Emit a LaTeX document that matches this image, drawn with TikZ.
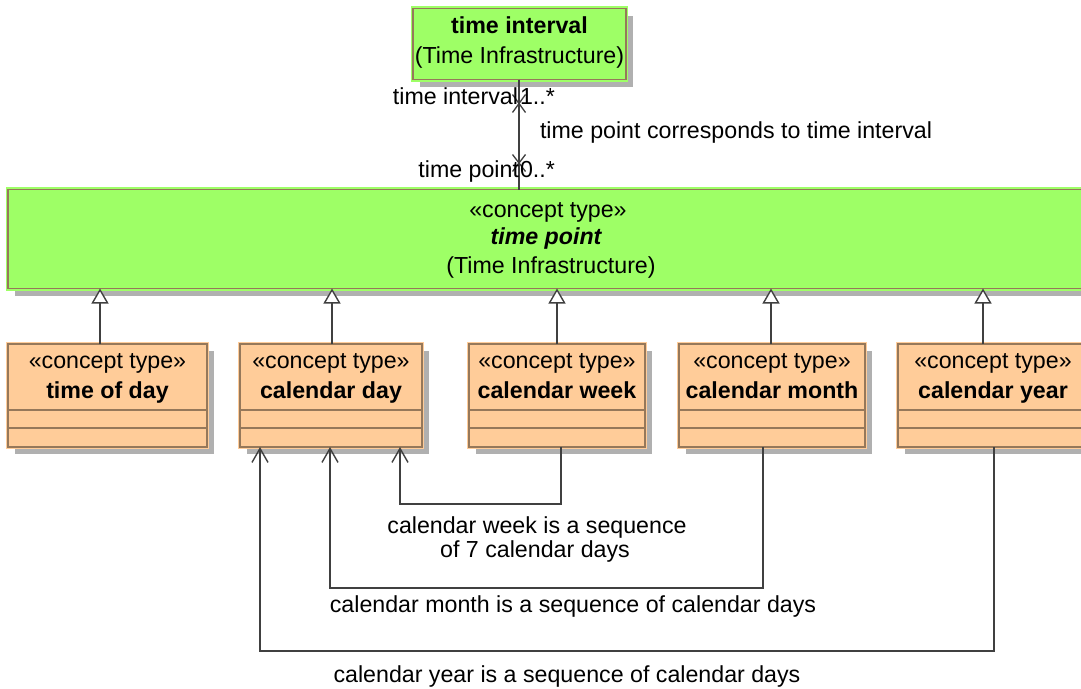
\documentclass[tikz,border=0pt]{standalone}
\usepackage{fontspec}
\setmainfont{Liberation Sans}
\usetikzlibrary{arrows.meta,shadows}
\definecolor{tgreen}{RGB}{158,255,102}
\definecolor{torange}{RGB}{255,204,153}
\definecolor{tborder}{RGB}{150,120,90}
\definecolor{tshadow}{RGB}{176,176,176}
\definecolor{tline}{RGB}{64,64,64}
\tikzset{
  box/.style={draw=tborder, line width=1.6pt, inner sep=0pt, outer sep=0pt, anchor=north west,
    drop shadow={shadow xshift=6.5pt, shadow yshift=-7pt, fill=tshadow, opacity=1}},
  gbox/.style={box, fill=tgreen, preaction={draw=tgreen, line width=4.6pt}},
  obox/.style={box, fill=torange, preaction={draw=torange, line width=4.6pt}},
  cline/.style={draw=tborder, line width=1.6pt},
  txt/.style={inner sep=0pt, outer sep=0pt, font=\fontsize{23.2}{27}\selectfont},
  conn/.style={draw=tline, line width=1.6pt},
  gen/.style={conn, -{Triangle[open, length=15pt, width=17pt, fill=white, line width=1.4pt]}},
  seq/.style={conn, -{Straight Barb[length=14pt, width=16pt, line width=1.4pt]}},
}
\newcommand\clsbox[4]{% name, left x, width, title
  \node[obox, minimum width=#3pt, minimum height=103pt] (#1) at (#2,344) {};
  \draw[cline] ([yshift=-66pt]#1.north west) -- ([yshift=-66pt]#1.north east);
  \draw[cline] ([yshift=-84pt]#1.north west) -- ([yshift=-84pt]#1.north east);
  \node[txt, anchor=base] (#1-s) at ([yshift=-24pt]#1.north) {«concept type»};
  \node[txt, anchor=base, font=\fontsize{23.2}{27}\selectfont\bfseries] (#1-t) at ([yshift=-54pt]#1.north) {#4};
}
\begin{document}
\begin{tikzpicture}[x=1pt, y=-1pt]
\clip (0,0) rectangle (1081,688);
% time interval
\node[gbox, minimum width=213pt, minimum height=71pt] (ti) at (413,8.5) {};
\node[txt, anchor=base, font=\fontsize{23.2}{27}\selectfont\bfseries] (ti-t) at ([yshift=-25pt]ti.north) {time interval};
\node[txt, anchor=base] (ti-p) at ([yshift=-55pt]ti.north) {(Time Infrastructure)};
% time point
\node[gbox, minimum width=1082pt, minimum height=99pt] (tp) at (8,189.5) {};
\node[txt, anchor=base] (tp-s) at (548,217) {«concept type»};
\node[txt, anchor=base, font=\fontsize{23.2}{27}\selectfont\bfseries\itshape] (tp-t) at (546,244) {time point};
\node[txt, anchor=base] (tp-p) at (551,273) {(Time Infrastructure)};
% subtypes
\clsbox{tod}{8}{199}{time of day}
\clsbox{cday}{240}{182}{calendar day}
\clsbox{cweek}{469}{176}{calendar week}
\clsbox{cmonth}{679}{186}{calendar month}
\clsbox{cyear}{898}{190}{calendar year}
% generalizations
\draw[gen] ([xshift=-7.5pt]tod.north) -- ([xshift=-7.5pt]tod.north |- tp.south);
\draw[gen] ([xshift=1pt]cday.north) -- ([xshift=1pt]cday.north |- tp.south);
\draw[gen] (cweek.north) -- (cweek.north |- tp.south);
\draw[gen] ([xshift=-1pt]cmonth.north) -- ([xshift=-1pt]cmonth.north |- tp.south);
\draw[gen] ([xshift=-10pt]cyear.north) -- ([xshift=-10pt]cyear.north |- tp.south);
% association
\coordinate (ax) at (519,0);
\draw[conn] (ax |- ti.south) -- (ax |- tp.north);
\draw[conn, line width=1.3pt] ([xshift=-6.5pt, yshift=-15pt]ax |- ti.south) -- ([xshift=6.5pt, yshift=-33pt]ax |- ti.south)
  ([xshift=6.5pt, yshift=-15pt]ax |- ti.south) -- ([xshift=-6.5pt, yshift=-33pt]ax |- ti.south);
\draw[conn, line width=1.3pt] ([xshift=-6.5pt, yshift=35pt]ax |- tp.north) -- ([xshift=6.5pt, yshift=18pt]ax |- tp.north)
  ([xshift=6.5pt, yshift=35pt]ax |- tp.north) -- ([xshift=-6.5pt, yshift=18pt]ax |- tp.north);
\node[txt, anchor=base east] (r1) at (518,104) {time interval};
\node[txt, anchor=base west] (m1) at (520,104) {1..*};
\node[txt, anchor=base east] (r2) at (519,177) {time point};
\node[txt, anchor=base west] (m2) at (520,177) {0..*};
\node[txt, anchor=base west] (an) at (540,138) {time point corresponds to time interval};
% sequences
\draw[seq] ([xshift=4pt]cweek.south) -- ++(0,57) -| ([xshift=69pt]cday.south);
\draw[seq] ([xshift=-9pt]cmonth.south) -- ++(0,141) -| ([xshift=-1pt]cday.south);
\draw[seq] ([xshift=1pt]cyear.south) -- ++(0,204) -| ([xshift=-71pt]cday.south);
\node[txt, anchor=base] (l1) at (537,533) {calendar week is a sequence};
\node[txt, anchor=base] (l2) at (535,557) {of 7 calendar days};
\node[txt, anchor=base] (l3) at (573,612) {calendar month is a sequence of calendar days};
\node[txt, anchor=base] (l4) at (567,682) {calendar year is a sequence of calendar days};
\end{tikzpicture}
\end{document}
